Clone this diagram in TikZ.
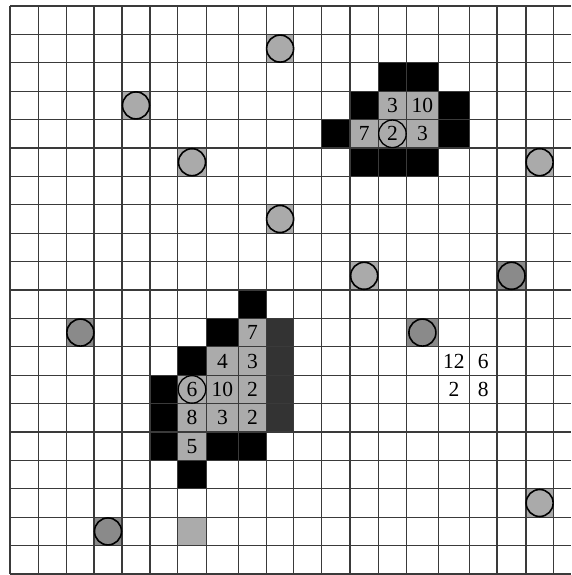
\documentclass[tikz,border=0pt]{standalone}
\usepackage{fontspec}
\setmainfont{Liberation Serif}
\definecolor{cellgray}{HTML}{ABABAB}
\definecolor{dotlight}{HTML}{AAAAAA}
\definecolor{dotdark}{HTML}{8A8A8A}
\definecolor{darkcol}{HTML}{333333}
\definecolor{gridcol}{HTML}{3A3A3A}
\def\xs{{10,38.3,66.7,94,122,150,177.5,206.5,238.3,266.7,293.5,321.7,350,378.3,406.5,438.3,469.5,497,526,553.3,580}}
\newcommand\cellat[2]{%
  \pgfmathsetmacro\cxa{\xs[#1]}%
  \pgfmathsetmacro\cxb{\xs[#1+1]}%
  \pgfmathsetmacro\cya{6+28.4*#2}%
  \pgfmathsetmacro\cyb{\cya+28.4}%
  \pgfmathsetmacro\cxm{(\cxa+\cxb)/2}%
  \pgfmathsetmacro\cym{(\cya+\cyb)/2}}
\begin{document}
\begin{tikzpicture}[x=1pt,y=-1pt,
  gridline/.style={draw=gridcol,line width=1.1pt},
  dotmark/.style={circle,draw=black,line width=1.6pt,minimum size=27pt,inner sep=0pt},
  num/.style={inner sep=0pt,font=\fontsize{21.5}{21.5}\selectfont},
  ringmark/.style={circle,draw=black,line width=1.3pt,minimum size=27.5pt,inner sep=0pt}]
\useasboundingbox (0,0) rectangle (571,575);
\fill[white] (0,0) rectangle (571,575);
% black cells
\foreach \c/\r in {13/2,14/2,12/3,15/3,11/4,15/4,12/5,13/5,14/5,
                   8/10,7/11,6/12,5/13,5/14,5/15,7/15,8/15,6/16}
  {\cellat{\c}{\r}\fill[black] (\cxa,\cya) rectangle (\cxb,\cyb);}
% gray cells
\foreach \c/\r in {13/3,14/3,12/4,13/4,14/4,
                   8/11,7/12,8/12,6/13,7/13,8/13,6/14,7/14,8/14,6/15,6/18}
  {\cellat{\c}{\r}\fill[cellgray] (\cxa,\cya) rectangle (\cxb,\cyb);}
% dark column
\foreach \r in {11,12,13,14}
  {\cellat{9}{\r}\fill[darkcol] (\cxa,\cya) rectangle (\cxb,\cyb);}
% cells under dots
\foreach \c/\r/\col in {9/1/dotlight,4/3/dotlight,6/5/dotlight,9/7/dotlight,18/5/dotlight,
                        12/9/dotlight,18/17/dotlight,17/9/dotdark,2/11/dotdark,14/11/dotdark,3/18/dotdark}
  {\cellat{\c}{\r}\fill[\col] (\cxa,\cya) rectangle (\cxb,\cyb);}
% grid
\foreach \i in {0,...,19}
  {\pgfmathsetmacro\gx{\xs[\i]}\draw[gridline] (\gx,6) -- (\gx,574);}
\foreach \j in {0,...,20}
  {\pgfmathsetmacro\gy{6+28.4*\j}\draw[gridline] (10,\gy) -- (571,\gy);}
% dots
\foreach \c/\r/\col in {9/1/dotlight,4/3/dotlight,6/5/dotlight,9/7/dotlight,18/5/dotlight,
                        12/9/dotlight,18/17/dotlight,17/9/dotdark,2/11/dotdark,14/11/dotdark,3/18/dotdark}
  {\cellat{\c}{\r}\node[dotmark,fill=\col] (d-\c-\r) at (\cxm,\cym) {};}
% numbers
\foreach \c/\r/\t in {13/3/3,14/3/10,12/4/7,13/4/2,14/4/3,
                      8/11/7,7/12/4,8/12/3,6/13/6,7/13/10,8/13/2,6/14/8,7/14/3,8/14/2,6/15/5,
                      15/12/12,16/12/6,15/13/2,16/13/8}
  {\cellat{\c}{\r}\node[num] (n-\c-\r) at (\cxm,\cym) {\t};}
% rings
\foreach \c/\r in {13/4,6/13}
  {\cellat{\c}{\r}\node[ringmark] (r-\c-\r) at (\cxm,\cym) {};}
\end{tikzpicture}
\end{document}
